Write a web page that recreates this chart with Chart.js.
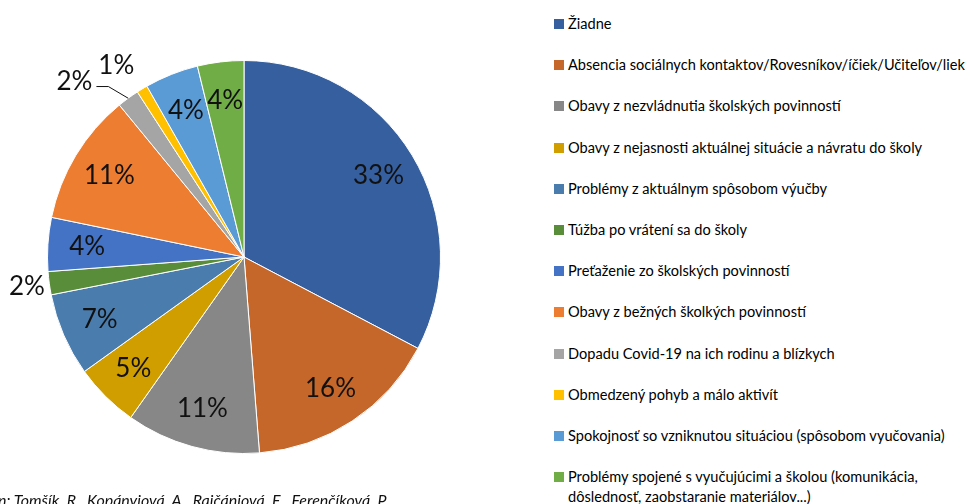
<!DOCTYPE html>
<html>
<head>
<meta charset="utf-8">
<script src="https://cdn.jsdelivr.net/npm/chart.js@4"></script>
<style>
  html, body { margin: 0; padding: 0; background: #fff; }
  body { width: 970px; height: 504px; position: relative; overflow: hidden; font-family: Lato, "Noto Sans", sans-serif; }
  #pieBox { position: absolute; left: 0; top: 0; width: 490px; height: 504px; }
  #legend { position: absolute; left: 554px; top: 0; width: 416px; height: 504px; }
  .item { position: absolute; left: 0; display: flex; align-items: flex-start; font-size: 14.6px; line-height: 20px; color: #000; white-space: nowrap; }
  .box { width: 10px; height: 10px; margin: 5px 4px 0 0; flex: none; }
  #source { position: absolute; left: -2px; top: 490px; font-size: 16px; line-height: 20px; font-style: italic; color: #111; white-space: nowrap; }
</style>
</head>
<body>
<div id="pieBox"><canvas id="pieChart"></canvas></div>
<div id="legend"></div>
<div id="source">n: Tomšík, R., Kopányiová, A., Rajčániová, E., Ferenčíková, P.</div>
<script>
  // Categories (legend order = slice order, clockwise from the top)
  const categories = [
    "Žiadne",
    "Absencia sociálnych kontaktov/Rovesníkov/íčiek/Učiteľov/liek",
    "Obavy z nezvládnutia školských povinností",
    "Obavy z nejasnosti aktuálnej situácie a návratu do školy",
    "Problémy z aktuálnym spôsobom výučby",
    "Túžba po vrátení sa do školy",
    "Preťaženie zo školských povinností",
    "Obavy z bežných školkých povinností",
    "Dopadu Covid-19 na ich rodinu a blízkych",
    "Obmedzený pohyb a málo aktivít",
    "Spokojnosť so vzniknutou situáciou (spôsobom vyučovania)",
    ["Problémy spojené s vyučujúcimi a školou (komunikácia,", "dôslednosť, zaobstaranie materiálov...)"],
  ];

  // Shares in percent
  const shares = [32.6, 16.0, 11.0, 5.3, 6.8, 1.9, 4.4, 10.8, 1.8, 0.9, 4.4, 3.8];

  const sliceColors = [
    "#365f9f", "#c5672a", "#878787", "#d19e00", "#4a7dae", "#5a8d3a",
    "#4472c4", "#ed7d31", "#a5a5a5", "#ffc000", "#5b9bd5", "#70ad47",
  ];

  // Small slices whose labels sit outside the pie
  const outsideLabels = {
    5: { r: 1.115, shift: 0 },
    8: { r: 1.24, shift: -8, leader: true },
    9: { r: 1.17, shift: -2.5 },
  };

  const labelFont = "26px Lato, 'Noto Sans', sans-serif";

  // Draw percentage labels on / beside the slices
  const sliceLabels = {
    id: "sliceLabels",
    afterDatasetsDraw(chart) {
      const ctx = chart.ctx;
      const meta = chart.getDatasetMeta(0);
      ctx.save();
      ctx.font = labelFont;
      ctx.fillStyle = "#111";
      ctx.textAlign = "center";
      ctx.textBaseline = "middle";
      meta.data.forEach((arc, i) => {
        const p = arc.getProps(["x", "y", "startAngle", "endAngle", "outerRadius"], true);
        const mid = (p.startAngle + p.endAngle) / 2;
        const text = Math.round(shares[i]) + "%";
        const out = outsideLabels[i];
        if (!out) {
          const r = p.outerRadius * 0.8;
          ctx.fillText(text, p.x + Math.cos(mid) * r, p.y + Math.sin(mid) * r);
          return;
        }
        const a = mid + (out.shift * Math.PI) / 180;
        const r = p.outerRadius * out.r;
        const lx = p.x + Math.cos(a) * r;
        const ly = p.y + Math.sin(a) * r;
        ctx.fillText(text, lx, ly);
        if (out.leader) {
          const ex = p.x + Math.cos(mid) * p.outerRadius;
          const ey = p.y + Math.sin(mid) * p.outerRadius;
          ctx.beginPath();
          ctx.strokeStyle = "#111";
          ctx.lineWidth = 1;
          ctx.moveTo(lx + 22, ly + 4.5);
          ctx.lineTo(lx + 34, ly + 4.5);
          ctx.lineTo(ex, ey);
          ctx.stroke();
        }
      });
      ctx.restore();
    },
  };

  const chart = new Chart(document.getElementById("pieChart").getContext("2d"), {
    type: "pie",
    data: {
      labels: categories,
      datasets: [
        {
          data: shares,
          backgroundColor: sliceColors,
          borderColor: "#ffffff",
          borderWidth: 1,
        },
      ],
    },
    options: {
      responsive: true,
      maintainAspectRatio: false,
      animation: false,
      layout: { padding: { left: 47, right: 49, top: 60, bottom: 50 } },
      plugins: {
        legend: { display: false },
        tooltip: { enabled: false },
      },
    },
    plugins: [sliceLabels],
  });

  // HTML legend so the long last entry can wrap onto two lines
  const legendEl = document.getElementById("legend");
  chart.data.labels.forEach((label, i) => {
    const row = document.createElement("div");
    row.className = "item";
    row.style.top = (14 + i * 41.2) + "px";
    const box = document.createElement("span");
    box.className = "box";
    box.style.background = sliceColors[i];
    const txt = document.createElement("span");
    txt.innerHTML = Array.isArray(label) ? label.join("<br>") : label;
    row.appendChild(box);
    row.appendChild(txt);
    legendEl.appendChild(row);
  });
</script>
</body>
</html>
